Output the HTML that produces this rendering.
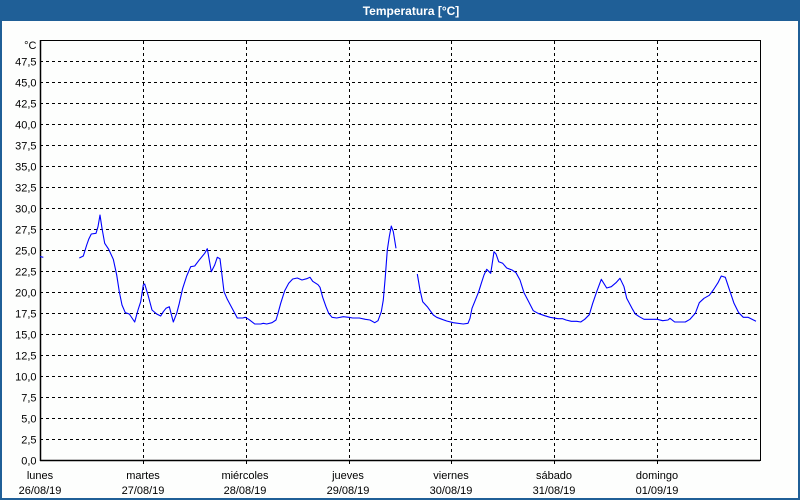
<!DOCTYPE html>
<html><head><meta charset="utf-8"><style>
html,body{margin:0;padding:0;background:#fff;}
svg{display:block;}
text{font-family:"Liberation Sans",sans-serif;font-size:11px;fill:#000;}
</style></head><body>
<svg width="800" height="500" viewBox="0 0 800 500" xmlns="http://www.w3.org/2000/svg">
<rect x="0" y="0" width="800" height="500" fill="#fdfefd"/>
<rect x="0" y="0" width="800" height="21" fill="#1f5f97"/>
<rect x="1" y="20" width="798" height="479" fill="none" stroke="#1f5f97" stroke-width="2"/>
<text x="411" y="15" text-anchor="middle" style="font-weight:bold;font-size:12px;fill:#fff">Temperatura [°C]</text>
<g stroke="#000" stroke-width="1" stroke-dasharray="3,3" fill="none">
<path d="M40 61.5H760M40 82.5H760M40 103.5H760M40 124.5H760M40 145.5H760M40 166.5H760M40 187.5H760M40 208.5H760M40 229.5H760M40 250.5H760M40 271.5H760M40 292.5H760M40 313.5H760M40 334.5H760M40 355.5H760M40 376.5H760M40 397.5H760M40 418.5H760M40 439.5H760"/>
<path d="M143.5 41V464M246.5 41V464M349.5 41V464M451.5 41V464M554.5 41V464M657.5 41V464"/>
</g>
<rect x="40.5" y="40.5" width="720" height="420" fill="none" stroke="#000" stroke-width="1"/>
<line x1="40" y1="460.5" x2="760" y2="460.5" stroke="#000" stroke-width="1.5"/>
<line x1="40.5" y1="40" x2="40.5" y2="461" stroke="#000" stroke-width="1.5"/>
<g text-anchor="end">
<text x="36.5" y="49">°C</text>
<text x="36.5" y="65.5">47,5</text>
<text x="36.5" y="86.5">45,0</text>
<text x="36.5" y="107.5">42,5</text>
<text x="36.5" y="128.5">40,0</text>
<text x="36.5" y="149.5">37,5</text>
<text x="36.5" y="170.5">35,0</text>
<text x="36.5" y="191.5">32,5</text>
<text x="36.5" y="212.5">30,0</text>
<text x="36.5" y="233.5">27,5</text>
<text x="36.5" y="254.5">25,0</text>
<text x="36.5" y="275.5">22,5</text>
<text x="36.5" y="296.5">20,0</text>
<text x="36.5" y="317.5">17,5</text>
<text x="36.5" y="338.5">15,0</text>
<text x="36.5" y="359.5">12,5</text>
<text x="36.5" y="380.5">10,0</text>
<text x="36.5" y="401.5">7,5</text>
<text x="36.5" y="422.5">5,0</text>
<text x="36.5" y="443.5">2,5</text>
<text x="36.5" y="464.5">0,0</text>
</g>
<g text-anchor="middle">
<text x="40" y="479">lunes</text><text x="40" y="494">26/08/19</text>
<text x="143" y="479">martes</text><text x="143" y="494">27/08/19</text>
<text x="245" y="479">miércoles</text><text x="245" y="494">28/08/19</text>
<text x="348" y="479">jueves</text><text x="348" y="494">29/08/19</text>
<text x="451" y="479">viernes</text><text x="451" y="494">30/08/19</text>
<text x="554" y="479">sábado</text><text x="554" y="494">31/08/19</text>
<text x="657" y="479">domingo</text><text x="657" y="494">01/09/19</text>
</g>
<g fill="none" stroke="#0000ff" stroke-width="1.1" stroke-linejoin="round">
<polyline points="40,256.5 43.3,257.3"/>
<polyline points="79.3,258 83.3,256 86.7,245 88.7,239.3 91.3,234 96,233.3 98,226.7 100,215 102,228.3 104.7,243.3 108.7,249.3 113.3,259.3 116.7,275 119.3,291.7 122,305 125.3,312.7 129.3,314 134.7,322 138,310 140.7,301.7 143.3,285 144.7,284 148,295 152,310 156.7,314 160.7,316 163.3,311.7 166,308.3 169.3,306.7 173.3,322 176.7,313.3 179.3,303.3 182.7,288.3 186.7,276 190.7,266.7 194.7,266 198.7,260.7 204.7,253.3 207.3,248.7 211.3,271.7 214.7,265 217.3,257.3 220,258.7 224,291.7 227.3,299.3 231.3,306.7 237.3,318 242.7,318 245.3,317.3 248.7,319.3 254.7,324 260.7,324 263.3,323.3 266.7,324 272,322.7 276,320 278,313.3 280.7,303.3 284.7,290.7 288.7,283.3 292.7,279 297.3,278 302,280 306.7,278.7 310,277.3 312.7,281.3 318,284.7 320,287.3 322.7,297.3 326,306.7 328.7,313.3 332,317.3 336.7,318 343.3,316.7 348.7,317.3 352.7,318 359.3,318 365.3,319.3 370,320 374.7,322.7 378,320.7 381.3,311.7 383.3,300 385.3,276.7 387.3,250 389.3,236.7 391.3,226 393.3,231.7 396,248.3"/>
<polyline points="417.3,274 420,290 422.7,301.7 427.3,306.7 433.3,315 436.7,317.3 442,319.3 446.7,321 453.3,322.7 463.3,324 468,323.3 470,318.3 472,308.3 474.7,301.7 478.7,291.7 481.3,283.3 484,275 486.7,269.3 490.7,273.3 492,265 494,251.7 496,254 498.7,261.7 502.7,263.3 506.7,268 512,270 516,272.7 520,280 524,292.7 528.7,301.7 533.3,310.7 538,313.3 544.7,315.7 550,317.3 558,318.7 562.7,318.7 566,320 571.3,321.3 576.7,321.3 580.7,322 584.7,319.3 589.3,314.7 592.7,303.3 596.7,291.7 601.3,279.3 606.7,288 611.3,286.7 616,282.7 620,278.3 624,286.7 626.7,298.3 632,308.3 635.3,314 639.3,316.7 644,319.3 657.3,319.3 662.7,320.7 668,320 670,318.3 674.7,322 681.3,322 685.3,322 690,319.3 695.3,313.3 699.3,302.7 704,298.3 709.3,295.3 713.3,290 718,282.7 721.3,276 725.3,277.3 729.3,289.3 734,303.3 738.7,312.7 743.3,317.3 748,317.3 752,319.3 756,321.3"/>
</g>
</svg>
</body></html>
